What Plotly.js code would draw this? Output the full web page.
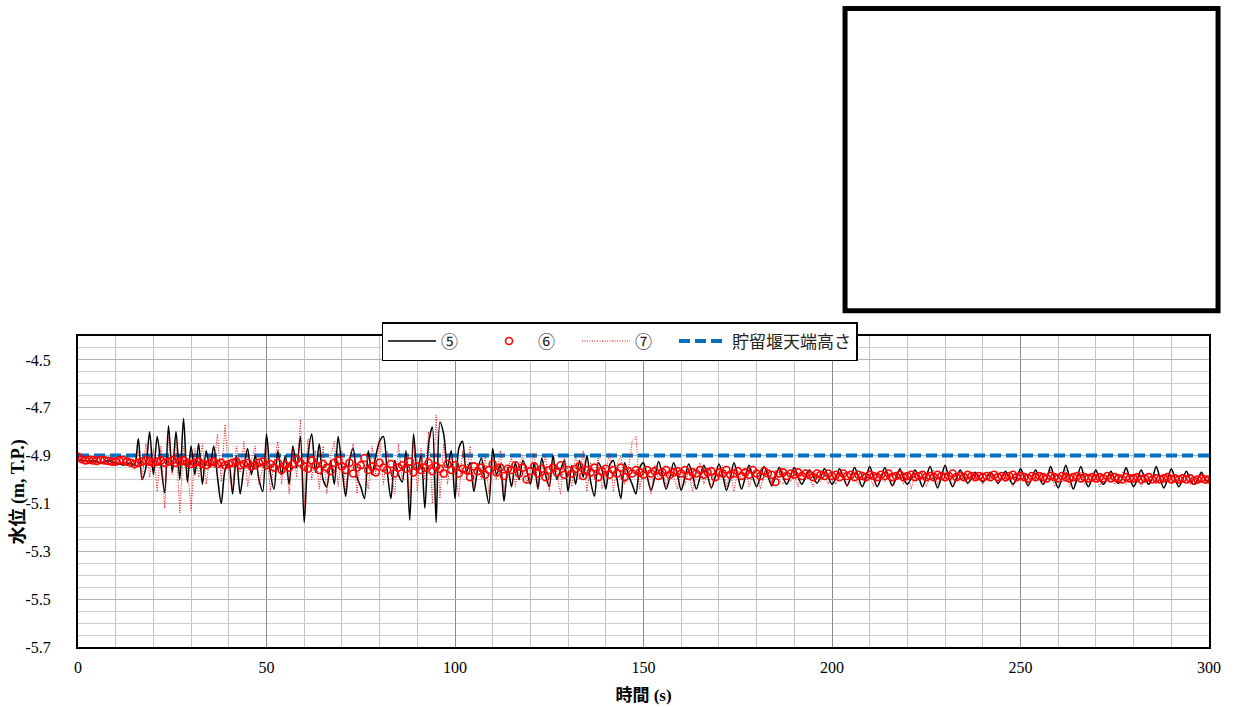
<!DOCTYPE html>
<html>
<head>
<meta charset="utf-8">
<script src="https://cdn.plot.ly/plotly-3.0.1.min.js"></script>
<style>html,body{margin:0;padding:0;background:#fff;}#chart{width:1237px;height:707px;}</style>
</head>
<body>
<div id="chart"></div>
<script>
// ⑤ water level (black line), 1 s step from t = 0
const s5 = [
-4.915,-4.92,-4.92,-4.925,-4.92,-4.925,-4.93,-4.925,-4.92,-4.925,
-4.93,-4.935,-4.94,-4.935,-4.93,-4.94,-4.83,-5.0,-4.95,-4.80,
-4.98,-4.82,-4.94,-5.055,-4.775,-4.97,-4.80,-5.0,-4.745,-5.01,
-4.86,-4.98,-4.85,-5.02,-4.88,-4.95,-4.86,-4.99,-5.10,-4.96,
-4.93,-5.06,-4.90,-5.06,-4.95,-4.87,-4.98,-4.90,-5.0,-5.05,
-4.81,-4.97,-5.04,-4.88,-4.98,-4.90,-5.02,-4.86,-4.95,-4.82,
-5.18,-4.90,-4.81,-4.97,-4.85,-5.0,-5.03,-4.92,-5.02,-4.82,
-4.95,-5.07,-4.92,-4.87,-4.99,-5.03,-5.08,-4.88,-4.98,-4.90,
-4.84,-4.82,-4.96,-5.08,-4.92,-4.98,-5.01,-4.88,-5.17,-4.81,
-4.97,-4.90,-5.12,-4.85,-4.78,-5.18,-4.76,-4.81,-4.95,-4.88,
-5.08,-4.87,-4.84,-4.97,-4.93,-5.05,-4.96,-4.91,-5.02,-5.10,
-4.87,-4.98,-4.94,-5.09,-4.95,-5.03,-4.93,-5.0,-4.92,-4.96,
-5.02,-4.93,-5.04,-4.91,-4.98,-5.03,-4.90,-5.0,-4.96,-4.92,
-5.05,-4.94,-5.02,-4.92,-4.99,-4.90,-5.01,-5.07,-4.93,-4.96,
-5.04,-4.94,-4.92,-5.0,-5.08,-4.93,-4.98,-5.02,-5.06,-4.95,
-4.93,-4.99,-5.045,-4.99,-4.925,-4.98,-5.04,-4.99,-4.93,-4.98,
-5.045,-4.99,-4.935,-4.98,-5.04,-4.99,-4.94,-4.985,-5.035,-4.99,
-4.935,-4.98,-5.045,-4.995,-4.93,-4.985,-5.04,-4.99,-4.94,-4.99,
-5.03,-4.99,-4.945,-4.985,-5.025,-4.99,-4.95,-4.99,-5.02,-4.985,
-4.95,-4.99,-5.02,-4.99,-4.96,-4.985,-5.015,-4.99,-4.955,-4.99,
-5.02,-4.995,-4.955,-4.99,-5.025,-4.99,-4.95,-4.99,-5.03,-4.995,
-4.945,-4.99,-5.03,-4.995,-4.95,-4.99,-5.025,-4.995,-4.955,-4.995,
-5.02,-4.995,-4.96,-4.99,-5.03,-4.99,-4.945,-4.99,-5.035,-4.99,
-4.94,-4.995,-5.03,-4.995,-4.96,-4.99,-5.015,-4.995,-4.97,-4.995,
-5.01,-4.995,-4.97,-4.99,-5.015,-4.995,-4.965,-4.995,-5.02,-4.995,
-4.955,-4.99,-5.025,-4.995,-4.96,-4.995,-5.02,-4.995,-4.945,-4.995,
-5.035,-4.995,-4.94,-4.99,-5.04,-4.995,-4.945,-4.995,-5.03,-4.995,
-4.96,-5.0,-5.02,-4.995,-4.965,-5.0,-5.015,-4.995,-4.95,-4.995,
-5.03,-5.0,-4.96,-4.995,-5.02,-4.995,-4.945,-4.995,-5.035,-5.0,
-4.955,-4.995,-5.03,-5.0,-4.965,-5.0,-5.02,-5.0,-4.97,-5.0,
-5.01
];
// ⑥ water level (red open circles)
const s6 = [
-4.905,-4.915,-4.92,-4.918,-4.92,-4.922,-4.918,-4.92,-4.922,-4.925,
-4.925,-4.92,-4.918,-4.925,-4.93,-4.935,-4.93,-4.925,-4.92,-4.925,
-4.93,-4.925,-4.92,-4.93,-4.925,-4.92,-4.93,-4.925,-4.92,-4.93,
-4.935,-4.93,-4.925,-4.935,-4.94,-4.93,-4.925,-4.935,-4.93,-4.94,
-4.935,-4.93,-4.925,-4.94,-4.935,-4.93,-4.945,-4.94,-4.93,-4.925,
-4.94,-4.935,-4.95,-4.93,-4.96,-4.94,-4.95,-4.935,-4.915,-4.93,
-4.945,-4.955,-4.92,-4.94,-4.96,-4.935,-4.95,-4.965,-4.93,-4.92,
-4.945,-4.96,-4.93,-4.975,-4.95,-4.94,-4.91,-4.96,-4.945,-4.97,
-4.93,-4.95,-4.96,-4.935,-4.975,-4.95,-4.94,-4.955,-4.925,-4.97,
-4.945,-4.96,-4.95,-4.93,-4.965,-4.945,-4.955,-4.975,-4.935,-4.96,
-4.94,-4.975,-4.955,-4.96,-4.99,-4.945,-4.965,-4.95,-4.98,-4.96,
-4.935,-4.97,-4.95,-4.985,-4.955,-4.96,-4.94,-4.975,-4.95,-5.0,
-4.965,-4.945,-4.975,-4.955,-4.99,-4.96,-4.95,-4.97,-4.94,-4.98,
-4.96,-4.975,-4.955,-4.945,-4.985,-4.96,-4.97,-4.95,-4.99,-4.965,
-4.955,-4.98,-4.96,-4.975,-4.95,-4.99,-4.965,-4.975,-4.96,-4.97,
-4.98,-4.96,-4.975,-4.965,-4.985,-4.97,-4.96,-4.98,-4.97,-4.965,
-4.975,-4.96,-4.985,-4.97,-4.975,-4.96,-4.98,-4.97,-4.965,-4.99,
-4.97,-4.975,-4.96,-4.98,-4.975,-4.965,-4.985,-4.97,-4.98,-4.96,
-4.975,-4.985,-4.965,-4.975,-4.98,-5.01,-4.975,-4.97,-4.985,-4.975,
-4.98,-4.97,-4.985,-4.975,-4.98,-4.99,-4.975,-4.98,-4.985,-4.975,
-4.985,-4.98,-4.99,-4.975,-4.985,-4.98,-4.99,-4.98,-4.985,-4.99,
-4.98,-4.985,-4.99,-4.98,-4.985,-4.975,-4.99,-4.985,-4.98,-4.99,
-4.985,-4.98,-4.99,-4.985,-4.98,-4.99,-4.985,-4.99,-4.98,-4.985,
-4.99,-4.985,-4.975,-4.99,-4.985,-4.99,-4.98,-4.985,-4.99,-4.985,
-4.99,-4.985,-4.99,-4.98,-4.99,-4.985,-4.99,-4.985,-4.98,-4.99,
-4.985,-4.99,-4.995,-4.985,-4.99,-4.985,-4.99,-4.995,-4.985,-4.99,
-4.995,-4.985,-4.99,-4.995,-4.99,-4.985,-4.995,-4.99,-4.995,-4.99,
-4.995,-4.99,-4.995,-4.985,-4.995,-4.99,-4.995,-5.0,-4.99,-4.995,
-4.995,-4.99,-5.0,-4.995,-4.99,-5.0,-4.995,-5.0,-4.995,-4.99,
-5.0,-4.995,-5.0,-4.995,-5.0,-4.995,-5.005,-5.0,-4.995,-5.0,
-5.0
];
// ⑦ water level (red dotted line)
const s7 = [
-4.92,-4.925,-4.92,-4.93,-4.925,-4.93,-4.925,-4.93,-4.935,-4.93,
-4.935,-4.93,-4.94,-4.93,-4.935,-4.96,-4.88,-5.0,-4.85,-4.99,
-4.87,-5.05,-4.86,-5.12,-4.82,-4.98,-4.84,-5.14,-4.86,-4.95,
-5.13,-4.87,-4.99,-4.85,-5.02,-4.90,-4.95,-4.81,-5.01,-4.77,
-4.98,-5.04,-4.86,-4.97,-4.84,-5.03,-4.92,-4.86,-5.02,-4.95,
-4.86,-5.05,-4.93,-4.84,-5.02,-4.90,-5.06,-4.87,-4.99,-4.75,
-5.12,-4.83,-5.0,-4.88,-5.04,-4.86,-5.06,-4.90,-4.84,-5.03,
-4.88,-5.05,-4.92,-4.85,-5.06,-4.90,-4.96,-5.04,-4.86,-4.98,
-4.82,-5.02,-4.88,-4.97,-5.06,-4.85,-5.0,-4.90,-5.08,-4.83,
-5.05,-4.87,-5.0,-4.80,-5.1,-4.73,-5.08,-4.85,-5.02,-4.90,
-4.96,-5.07,-4.88,-4.98,-4.86,-5.04,-4.93,-5.0,-4.90,-5.06,
-4.93,-5.0,-4.88,-5.05,-4.95,-4.91,-5.03,-4.94,-4.90,-5.02,
-4.95,-4.89,-5.04,-4.96,-4.90,-5.05,-4.92,-4.97,-5.06,-4.91,
-4.96,-5.03,-4.90,-5.0,-4.88,-5.05,-4.93,-4.99,-4.91,-5.04,
-4.96,-4.89,-5.05,-4.94,-4.90,-5.02,-4.96,-4.84,-4.82,-5.04,
-4.95,-4.97,-5.06,-4.94,-5.0,-4.96,-5.03,-4.95,-4.99,-5.04,
-4.95,-5.02,-4.96,-5.05,-4.97,-4.93,-5.02,-4.97,-5.04,-4.96,
-5.0,-4.94,-5.03,-4.97,-5.05,-4.96,-5.0,-4.95,-5.03,-4.98,
-4.96,-5.04,-4.98,-4.97,-5.03,-4.96,-5.0,-5.02,-4.97,-5.01,
-4.98,-5.03,-4.97,-5.0,-4.99,-5.03,-4.97,-5.01,-4.98,-5.02,
-4.97,-5.02,-4.99,-4.97,-5.03,-4.98,-5.0,-5.02,-4.97,-5.01,
-4.98,-5.03,-4.97,-5.0,-5.01,-4.97,-5.03,-4.99,-4.98,-5.02,
-4.97,-5.04,-4.98,-5.0,-4.97,-5.03,-4.99,-4.96,-5.02,-4.98,
-5.01,-4.97,-5.03,-4.99,-5.0,-4.98,-5.02,-4.99,-5.0,-4.98,
-5.02,-4.99,-5.0,-4.98,-5.02,-4.99,-5.01,-4.97,-5.03,-4.99,
-5.0,-4.98,-5.03,-4.99,-5.0,-4.97,-5.02,-4.99,-4.96,-5.03,
-4.98,-5.01,-4.96,-5.03,-4.99,-5.0,-4.97,-5.02,-4.99,-5.01,
-4.98,-5.03,-4.99,-5.0,-4.98,-5.02,-5.0,-4.97,-5.02,-4.99,
-5.01,-4.98,-5.03,-4.99,-5.0,-4.98,-5.02,-4.99,-5.01,-4.98,
-5.02,-4.99,-5.01,-4.99,-5.0,-5.02,-4.99,-5.01,-5.0,-5.02,
-5.0
];
// weir crest height
const crestX = [0, 300];
const crestY = [-4.9, -4.9];
const seriesNames = ['⑤\u2003', '⑥\u2003', '⑦\u2003', '貯留堰天端高さ'];
const xTickVals = [0, 50, 100, 150, 200, 250, 300];
const yTickVals = [-4.5, -4.7, -4.9, -5.1, -5.3, -5.5, -5.7];
const yTickText = ['-4.5', '-4.7', '-4.9', '-5.1', '-5.3', '-5.5', '-5.7'];

const time = s5.map((_, i) => i);
const serif = 'Liberation Serif, Noto Sans CJK JP, serif';
const jp = 'Noto Sans CJK JP, sans-serif';

const traces = [
  {x: crestX, y: crestY, name: seriesNames[3], mode: 'lines', legendrank: 4,
   line: {color: '#0070C0', width: 4, dash: '11px,5px'}},
  {x: time, y: s5, name: seriesNames[0], mode: 'lines', legendrank: 1,
   line: {color: '#000000', width: 1.5, shape: 'spline', smoothing: 0.8}},
  {x: time, y: s7, name: seriesNames[2], mode: 'lines', legendrank: 3,
   line: {color: '#ff0000', width: 1, dash: '1px,1.5px'}},
  {x: time, y: s6, name: seriesNames[1], mode: 'markers', legendrank: 2,
   marker: {symbol: 'circle-open', size: 7, color: '#ff0000', line: {width: 1.6, color: '#ff0000'}}}
];

const layout = {
  width: 1237, height: 707,
  margin: {l: 78, r: 28, t: 336, b: 60},
  paper_bgcolor: '#ffffff', plot_bgcolor: '#ffffff',
  showlegend: true,
  legend: {orientation: 'h', x: 0.4788, xanchor: 'center', y: 1.045, yanchor: 'top',
    bgcolor: '#ffffff', bordercolor: '#000000', borderwidth: 1.5,
    font: {family: jp, size: 17, color: '#222222'},
    itemwidth: 48, traceorder: 'normal'},
  xaxis: {
    range: [0, 300], tickvals: xTickVals, ticks: '', ticklabelstandoff: 5,
    tickfont: {family: serif, size: 16, color: '#000'},
    showgrid: true, gridcolor: '#8c8c8c', gridwidth: 1,
    minor: {dtick: 10, tick0: 0, showgrid: true, gridcolor: '#c4c4c4', gridwidth: 1},
    showline: true, linecolor: '#000', linewidth: 2, mirror: true, zeroline: false,
    title: {text: '<b>時間 (s)</b>', font: {family: serif, size: 17, color: '#000'}, standoff: 14}
  },
  yaxis: {
    range: [-5.7, -4.4], tickvals: yTickVals, ticktext: yTickText, ticks: '', ticklabelstandoff: 22,
    tickfont: {family: serif, size: 16, color: '#000'},
    showgrid: true, gridcolor: '#b4b4b4', gridwidth: 1,
    minor: {dtick: 0.05, tick0: -4.5, showgrid: true, gridcolor: '#cdcdcd', gridwidth: 1},
    showline: true, linecolor: '#000', linewidth: 2, mirror: true, zeroline: false
  },
  annotations: [
    {text: '<b>水位 (m, T.P.)</b>', xref: 'paper', yref: 'paper', x: -0.0522, y: 0.5,
     xanchor: 'center', yanchor: 'middle', textangle: -90, showarrow: false,
     font: {family: serif, size: 18, color: '#000'}}
  ],
  shapes: [
    {type: 'rect', xref: 'paper', yref: 'paper', x0: 0.6782, x1: 1.0080, y0: 1.0810, y1: 2.0531,
     line: {color: '#000000', width: 5}, fillcolor: 'rgba(0,0,0,0)'}
  ]
};

Plotly.newPlot('chart', traces, layout, {displayModeBar: false, staticPlot: true});
</script>
</body>
</html>
